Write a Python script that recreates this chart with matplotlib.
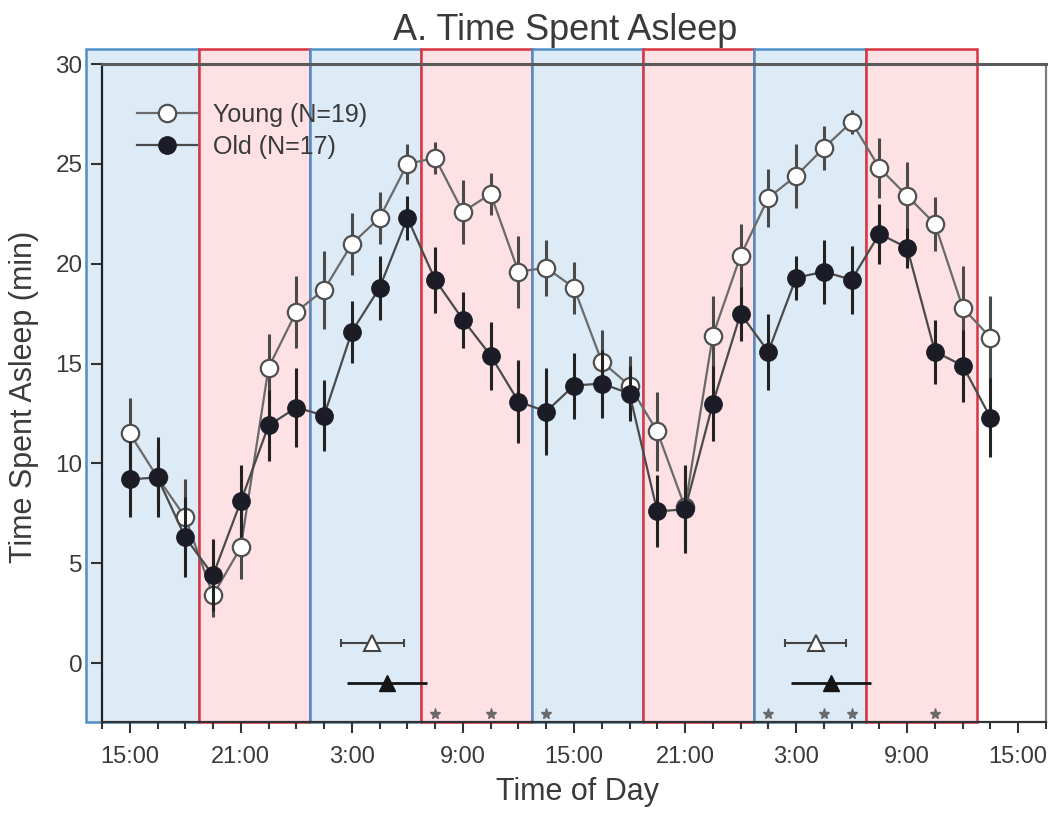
import matplotlib
matplotlib.use("Agg")
import matplotlib.pyplot as plt
from matplotlib.patches import Rectangle

plt.rcParams["font.family"] = ["Liberation Sans", "DejaVu Sans"]
textcol = "#3a3a3a"

# time of day in hours from 0:00 of day 1 (15:00 ... 13:30 two days later)
hours = [15.0, 16.5, 18.0, 19.5, 21.0, 22.5, 24.0, 25.5, 27.0, 28.5, 30.0, 31.5,
         33.0, 34.5, 36.0, 37.5, 39.0, 40.5, 42.0, 43.5, 45.0, 46.5, 48.0, 49.5,
         51.0, 52.5, 54.0, 55.5, 57.0, 58.5, 60.0, 61.5]

young = [11.5, 9.3, 7.3, 3.4, 5.8, 14.8, 17.6, 18.7, 21.0, 22.3, 25.0, 25.3,
         22.6, 23.5, 19.6, 19.8, 18.8, 15.1, 13.9, 11.6, 7.8, 16.4, 20.4, 23.3,
         24.4, 25.8, 27.1, 24.8, 23.4, 22.0, 17.8, 16.3]
young_err = [1.8, 1.5, 1.9, 1.1, 1.6, 1.7, 1.8, 1.95, 1.55, 1.3, 1.0, 0.8,
             1.6, 1.05, 1.8, 1.4, 1.3, 1.6, 1.5, 2.0, 1.9, 2.0, 1.6, 1.45,
             1.6, 1.1, 0.6, 1.5, 1.7, 1.35, 2.1, 2.1]

old = [9.2, 9.3, 6.3, 4.4, 8.1, 11.9, 12.8, 12.4, 16.6, 18.8, 22.3, 19.2,
       17.2, 15.4, 13.1, 12.6, 13.9, 14.0, 13.5, 7.6, 7.7, 13.0, 17.5, 15.6,
       19.3, 19.6, 19.2, 21.5, 20.8, 15.6, 14.9, 12.3]
old_err = [1.9, 2.0, 2.0, 1.8, 1.8, 1.8, 2.0, 1.8, 1.55, 1.6, 1.1, 1.65,
           1.4, 1.7, 2.1, 2.2, 1.65, 1.7, 1.4, 1.8, 2.2, 1.9, 1.35, 1.9,
           1.1, 1.6, 1.7, 1.5, 1.0, 1.6, 1.8, 2.0]

# shaded periods (start hour, end hour, kind)
band_start = [12.65, 18.75, 24.75, 30.75, 36.75, 42.75, 48.75, 54.75]
band_end = [18.75, 24.75, 30.75, 36.75, 42.75, 48.75, 54.75, 60.75]
band_kind = ["blue", "red", "blue", "red", "blue", "red", "blue", "red"]

# peak timing markers (mean and spread)
peak_young = [28.1, 52.05]
peak_young_err = [1.7, 1.65]
peak_old = [28.9, 52.9]
peak_old_err = [2.15, 2.15]
peak_young_y = 1.0
peak_old_y = -1.0

star_hours = [31.5, 34.5, 37.5, 49.5, 52.5, 54.0, 58.5]
star_y = -2.55

tick_pos = [15, 21, 27, 33, 39, 45, 51, 57, 63]
tick_lab = ["15:00", "21:00", "3:00", "9:00", "15:00", "21:00", "3:00", "9:00", "15:00"]

ymin, ymax = -2.95, 30
band_top = 30.75

fig = plt.figure(figsize=(10.59, 8.13), dpi=100)
ax = fig.add_axes([0.0963, 0.1119, 0.8914, 0.8093])
ax.patch.set_alpha(0)

fills = {"blue": "#ddebf7", "red": "#fde1e4"}
edges = {"blue": "#4f8fc6", "red": "#dd3340"}
for s, e, k in zip(band_start, band_end, band_kind):
    ax.add_patch(Rectangle((s, ymin), e - s, band_top - ymin, facecolor=fills[k],
                           edgecolor=edges[k], linewidth=1.8, clip_on=False, zorder=0.5))

# young
ax.errorbar(hours, young, yerr=young_err, fmt="none", ecolor="#4a4a4a",
            elinewidth=2.2, capsize=0, zorder=3)
ax.plot(hours, young, color="#6a6a6a", linewidth=1.6, marker="o", markersize=12.5,
        markerfacecolor="white", markeredgecolor="#505050", markeredgewidth=1.6,
        label="Young (N=19)", zorder=4)
# old
ax.errorbar(hours, old, yerr=old_err, fmt="none", ecolor="#222222",
            elinewidth=2.2, capsize=0, zorder=5)
ax.plot(hours, old, color="#4a4a4a", linewidth=1.6, marker="o", markersize=12.5,
        markerfacecolor="#1c1c26", markeredgecolor="#1c1c26",
        label="Old (N=17)", zorder=6)

ax.errorbar(peak_young, [peak_young_y] * len(peak_young), xerr=peak_young_err,
            fmt="^", color="#444444", markerfacecolor="white", markeredgecolor="#444444",
            markersize=11, markeredgewidth=1.5, elinewidth=1.5, capsize=3, zorder=6)
ax.errorbar(peak_old, [peak_old_y] * len(peak_old), xerr=peak_old_err,
            fmt="^", color="#151515", markersize=12, elinewidth=2, capsize=0, zorder=6)

ax.plot(star_hours, [star_y] * len(star_hours), linestyle="none", marker="*",
        markersize=8, color="#6a6a6a", zorder=6)

ax.set_xlim(13.5, 64.5)
ax.set_ylim(ymin, ymax)
ax.set_xticks(tick_pos)
ax.set_xticklabels(tick_lab)
ax.set_xticks([13.5 + 1.5 * i for i in range(35)], minor=True)
ax.set_yticks([0, 5, 10, 15, 20, 25, 30])

ax.tick_params(axis="x", which="major", direction="out", length=8, width=1.5,
               colors="#333333", labelsize=17, pad=9, labelcolor=textcol)
ax.tick_params(axis="x", which="minor", direction="out", length=5, width=1.5,
               colors="#333333")
ax.tick_params(axis="y", which="major", direction="out", length=8, width=1.5,
               colors="#333333", labelsize=17.5, pad=6, labelcolor=textcol)

ax.spines["left"].set_color("#222222")
ax.spines["left"].set_linewidth(1.6)
ax.spines["bottom"].set_color("#333333")
ax.spines["bottom"].set_linewidth(1.6)
ax.spines["top"].set_color("#5a5a5a")
ax.spines["top"].set_linewidth(2.2)
ax.spines["right"].set_color("#7a7a7a")
ax.spines["right"].set_linewidth(1.6)

ax.legend(loc="upper left", bbox_to_anchor=(0.013, 0.975), frameon=False,
          fontsize=18, handlelength=2.4, handletextpad=0.65, labelspacing=0.3,
          labelcolor=textcol)

fig.text(0.5335, 0.963, "A. Time Spent Asleep", ha="center", va="center",
         fontsize=26, color=textcol)
fig.text(0.545, 0.026, "Time of Day", ha="center", va="center",
         fontsize=22, color=textcol)
fig.text(0.023, 0.512, "Time Spent Asleep (min)", ha="center", va="center",
         rotation=90, fontsize=22, color=textcol)

fig.savefig("out.png", dpi=100)
